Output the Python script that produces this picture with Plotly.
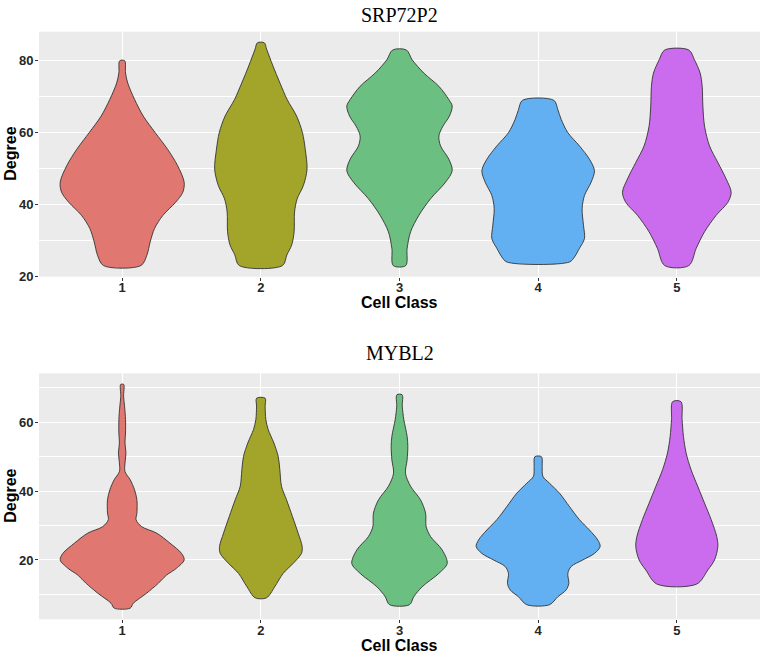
import plotly.graph_objects as go

# ---------------- data ----------------
classes = [1, 2, 3, 4, 5]
class_labels = ["1", "2", "3", "4", "5"]
fill_colors = ["#E07770", "#A2A52A", "#6BC081", "#62B0F2", "#CB6CEF"]

# SRP72P2: degree levels and violin half-widths (density, category units)
srp72p2_levels = [
    [23, 25.9, 29.6, 33.3, 37, 40.6, 43.4, 46.2, 50.8, 55.4, 60, 64.6, 69.2, 73.8, 76.6, 80],
    [23, 26, 28.7, 32.4, 37.9, 41.6, 45.2, 49.8, 55.4, 60, 64.6, 69.2, 73.8, 78.6, 83.2, 85],
    [23, 27.8, 32.4, 37, 41.6, 46.2, 49.4, 52.6, 56.3, 59.1, 61.8, 64.6, 67.4, 69.2, 72.9, 76.6, 80.3, 83],
    [24, 25.4, 27.8, 30.5, 34.2, 38.8, 42.5, 46.2, 49.4, 52.6, 56.3, 60, 63.7, 66.4, 69],
    [23, 27.8, 32.4, 37, 40.6, 43.4, 47.1, 51.7, 56.3, 61.8, 67.4, 72.9, 76.6, 80.3, 83],
]
srp72p2_widths = [
    [0.135, 0.178, 0.202, 0.233, 0.294, 0.385, 0.437, 0.447, 0.40, 0.327, 0.238, 0.152, 0.09, 0.04, 0.024, 0.018],
    [0.156, 0.188, 0.222, 0.24, 0.243, 0.262, 0.306, 0.333, 0.32, 0.30, 0.258, 0.19, 0.138, 0.087, 0.042, 0.025],
    [0.045, 0.055, 0.08, 0.14, 0.224, 0.332, 0.38, 0.356, 0.296, 0.284, 0.313, 0.36, 0.38, 0.356, 0.284, 0.175, 0.091, 0.05],
    [0.226, 0.262, 0.298, 0.334, 0.327, 0.317, 0.334, 0.382, 0.406, 0.37, 0.298, 0.214, 0.166, 0.142, 0.113],
    [0.087, 0.14, 0.2, 0.284, 0.368, 0.392, 0.356, 0.296, 0.236, 0.20, 0.188, 0.183, 0.168, 0.127, 0.087],
]

# MYBL2
mybl2_levels = [
    [6, 7.4, 10.3, 13.2, 15.6, 17.6, 20, 21.9, 24.9, 27.8, 29.7, 31.7, 33.6, 37.5, 40.4, 43.3, 45.7, 48.2, 51.1, 54, 56.9, 60.8, 64.7, 67.6, 71],
    [9, 12.2, 16.1, 19, 21.9, 23.9, 27.8, 32.6, 37.5, 41.4, 46.2, 50.1, 54, 57.9, 60.8, 64.7, 67],
    [7, 9.3, 12.2, 16.1, 19, 22.9, 26.8, 29.7, 33.6, 37.5, 41.4, 45.2, 49.1, 53, 55.9, 60.8, 64.7, 68],
    [7, 9.3, 11.3, 13.2, 16.1, 18.1, 20, 21.9, 23.9, 25.8, 28.7, 31.7, 35.5, 39.4, 42.3, 44.3, 47.2, 50],
    [13, 17.1, 20, 23.9, 26.8, 31.7, 36.5, 41.4, 46.2, 51.1, 55.9, 60.8, 66],
]
mybl2_widths = [
    [0.058, 0.08, 0.175, 0.26, 0.32, 0.392, 0.447, 0.428, 0.344, 0.248, 0.14, 0.10, 0.106, 0.106, 0.089, 0.058, 0.02, 0.02, 0.027, 0.02, 0.024, 0.024, 0.017, 0.01, 0.011],
    [0.041, 0.1, 0.161, 0.233, 0.293, 0.298, 0.269, 0.228, 0.185, 0.149, 0.137, 0.125, 0.094, 0.053, 0.036, 0.031, 0.031],
    [0.072, 0.103, 0.163, 0.284, 0.344, 0.308, 0.224, 0.192, 0.188, 0.151, 0.08, 0.043, 0.055, 0.06, 0.055, 0.031, 0.02, 0.019],
    [0.082, 0.142, 0.202, 0.221, 0.214, 0.238, 0.322, 0.406, 0.447, 0.43, 0.37, 0.298, 0.226, 0.154, 0.082, 0.034, 0.029, 0.024],
    [0.144, 0.224, 0.272, 0.296, 0.288, 0.248, 0.2, 0.151, 0.103, 0.067, 0.048, 0.038, 0.03],
]

panel_titles = ["SRP72P2", "MYBL2"]
y_title = "Degree"
x_title = "Cell Class"
srp72p2_ticks = [20, 40, 60, 80]
mybl2_ticks = [20, 40, 60]

# ---------------- figure ----------------
fig = go.Figure()

def add_violins(levels, widths, xa, ya):
    for c, ys, ws, col in zip(classes, levels, widths, fill_colors):
        xs = [c - w for w in ws] + [c + w for w in reversed(ws)] + [c - ws[0]]
        yy = list(ys) + list(reversed(ys)) + [ys[0]]
        fig.add_trace(go.Scatter(
            x=xs, y=yy, xaxis=xa, yaxis=ya, mode="lines",
            fill="toself", fillcolor=col,
            line=dict(color="#333333", width=0.9, shape="spline", smoothing=0.9),
            hoverinfo="skip", showlegend=False))

add_violins(srp72p2_levels, srp72p2_widths, "x", "y")
add_violins(mybl2_levels, mybl2_widths, "x2", "y2")

W, H = 765, 653
x0, x1 = 39 / W, 760 / W
top_dom = [1 - 276.7 / H, 1 - 31.7 / H]
bot_dom = [1 - 619.3 / H, 1 - 373.3 / H]

tickfont = dict(family="Liberation Sans, Arial", size=13, color="#262626", weight="bold")
common_x = dict(range=[0.4, 5.6], tickvals=classes, ticktext=class_labels,
                showgrid=True, gridcolor="white", gridwidth=1.1, zeroline=False,
                ticks="outside", ticklen=3, tickcolor="#333333", tickwidth=1,
                ticklabelstandoff=-4,
                tickfont=tickfont, showline=False, automargin=False, fixedrange=True)
common_y = dict(showgrid=True, gridcolor="white", gridwidth=1.1, zeroline=False,
                ticks="outside", ticklen=3, tickcolor="#333333", tickwidth=1,
                ticklabelstandoff=-1,
                tickfont=tickfont, showline=False, automargin=False, fixedrange=True,
                minor=dict(dtick=10, tick0=0, showgrid=True, gridcolor="white", gridwidth=0.5, ticks=""))

fig.update_layout(
    width=W, height=H,
    margin=dict(l=0, r=0, t=0, b=0),
    paper_bgcolor="white", plot_bgcolor="#EBEBEB",
    showlegend=False,
    xaxis=dict(domain=[x0, x1], anchor="y", **common_x),
    yaxis=dict(domain=top_dom, anchor="x", range=[19.9, 88.1], tickvals=srp72p2_ticks, **common_y),
    xaxis2=dict(domain=[x0, x1], anchor="y2", **common_x),
    yaxis2=dict(domain=bot_dom, anchor="x2", range=[2.75, 74.25], tickvals=mybl2_ticks, **common_y),
)

# titles and axis titles as annotations
title_font = dict(family="Liberation Serif, Times New Roman", size=20, color="black")
axis_title_font = dict(family="Liberation Sans, Arial", size=16, color="black", weight="bold")
xc = (x0 + x1) / 2
for ttl, ycen in zip(panel_titles, [15, 353]):
    fig.add_annotation(text=ttl, x=xc, y=1 - ycen / H, xref="paper", yref="paper",
                       showarrow=False, font=title_font, xanchor="center", yanchor="middle")
for ycen in [302, 645]:
    fig.add_annotation(text=x_title, x=xc, y=1 - ycen / H, xref="paper", yref="paper",
                       showarrow=False, font=axis_title_font, xanchor="center", yanchor="middle")
for dom in [top_dom, bot_dom]:
    fig.add_annotation(text=y_title, x=10.5 / W, y=(dom[0] + dom[1]) / 2, xref="paper", yref="paper",
                       showarrow=False, font=axis_title_font, textangle=-90,
                       xanchor="center", yanchor="middle")

fig.write_html("out.html", config={"displayModeBar": False},
               post_script="document.body.style.margin='0px';document.body.style.overflow='hidden';")
